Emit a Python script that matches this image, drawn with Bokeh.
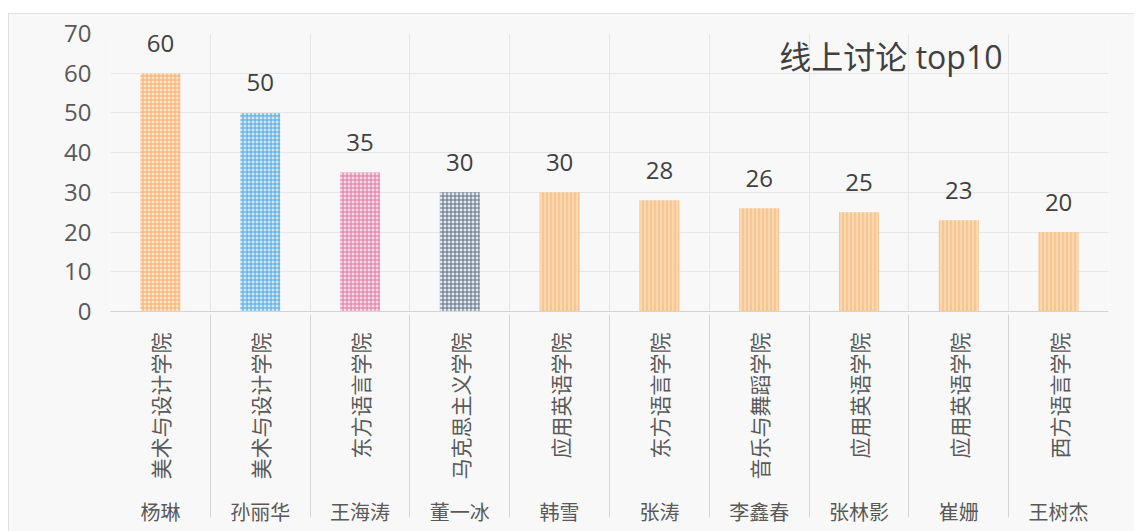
import math
from bokeh.plotting import figure
from bokeh.models import FactorRange, ColumnDataSource, LabelSet, Label, FixedTicker, Spacer, Range1d
from bokeh.core.properties import value
from bokeh.layouts import column, row
from bokeh.embed import file_html
from bokeh.resources import INLINE

names = ["杨琳", "孙丽华", "王海涛", "董一冰", "韩雪", "张涛", "李鑫春", "张林影", "崔姗", "王树杰"]
colleges = ["美术与设计学院", "美术与设计学院", "东方语言学院", "马克思主义学院", "应用英语学院",
            "东方语言学院", "音乐与舞蹈学院", "应用英语学院", "应用英语学院", "西方语言学院"]
values = [60, 50, 35, 30, 30, 28, 26, 25, 23, 20]
title_text = "线上讨论 top10"
y_ticks = [0, 10, 20, 30, 40, 50, 60, 70]

fill_colors = ["#fde3c6", "#cfe8f7", "#f9d9e5", "#e3e8ef"] + ["#fbd7b0"] * 6
hatch_colors = ["#f2ad6c", "#4fa3d9", "#d9789f", "#5a6b82"] + ["#f3b579"] * 6
hatch_patterns = ["cross"] * 4 + ["vertical_line"] * 6

FONT = "'Open Sans', 'Noto Sans CJK SC', sans-serif"
CJK = "'Noto Sans CJK SC', sans-serif"

factors = list(zip(names, colleges))
src = ColumnDataSource(dict(
    x=factors, values=values, labels=[str(v) for v in values],
    fill=fill_colors, hatch=hatch_colors, pat=hatch_patterns,
))

p = figure(
    x_range=FactorRange(*factors, factor_padding=0, group_padding=0, range_padding=0),
    y_range=Range1d(0, 70),
    width=1126, height=518,
    output_backend="svg", toolbar_location=None,
    min_border_left=102, min_border_right=26, min_border_top=20, min_border_bottom=220,
    background_fill_color="#f8f8f8", border_fill_color="#f8f8f8",
)
p.styles = {"outline": "1px solid #dadada", "outline-offset": "-1px"}
p.outline_line_color = None

p.vbar(x="x", top="values", width=0.4, source=src, fill_color="fill", line_color=None,
       hatch_pattern="pat", hatch_color="hatch", hatch_scale=4, hatch_weight=1)

p.add_layout(LabelSet(x="x", y="values", text="labels", source=src, y_offset=30,
                      text_align="center", text_baseline="middle",
                      text_font=value(FONT), text_font_size=value("24px"), text_color=value("#404040")))

p.add_layout(Label(x=7.82, y=64.2, text=title_text, text_align="center", text_baseline="middle",
                   text_font=FONT, text_font_size="32px", text_color="#404040"))

# grids
p.ygrid.ticker = FixedTicker(ticks=y_ticks)
p.ygrid.grid_line_color = "#e6e6e6"
p.xgrid.ticker = FixedTicker(ticks=list(range(len(names) + 1)))
p.xgrid.grid_line_color = "#e6e6e6"

# y axis
p.yaxis.ticker = FixedTicker(ticks=y_ticks)
p.yaxis.axis_line_color = None
p.yaxis.major_tick_line_color = None
p.yaxis.minor_tick_line_color = None
p.yaxis.major_label_standoff = 13
p.yaxis.major_label_text_font = FONT
p.yaxis.major_label_text_font_size = "24px"
p.yaxis.major_label_text_color = "#595959"

# x axis
xa = p.xaxis[0]
xa.axis_line_color = "#d4d4d4"
xa.major_tick_line_color = None
xa.major_label_orientation = math.pi / 2
xa.major_label_standoff = 15
xa.major_label_text_font = CJK
xa.major_label_text_font_size = "21px"
xa.major_label_text_color = "#595959"
xa.group_label_orientation = "horizontal"
xa.group_text_font = CJK
xa.group_text_font_size = "20px"
xa.group_text_color = "#595959"
xa.group_text_font_style = "normal"
xa.separator_line_color = "#d4d4d4"
xa.separator_line_width = 1

layout = row(Spacer(width=8), column(Spacer(height=13), p))
open("out.html", "w").write(file_html(layout, INLINE))
